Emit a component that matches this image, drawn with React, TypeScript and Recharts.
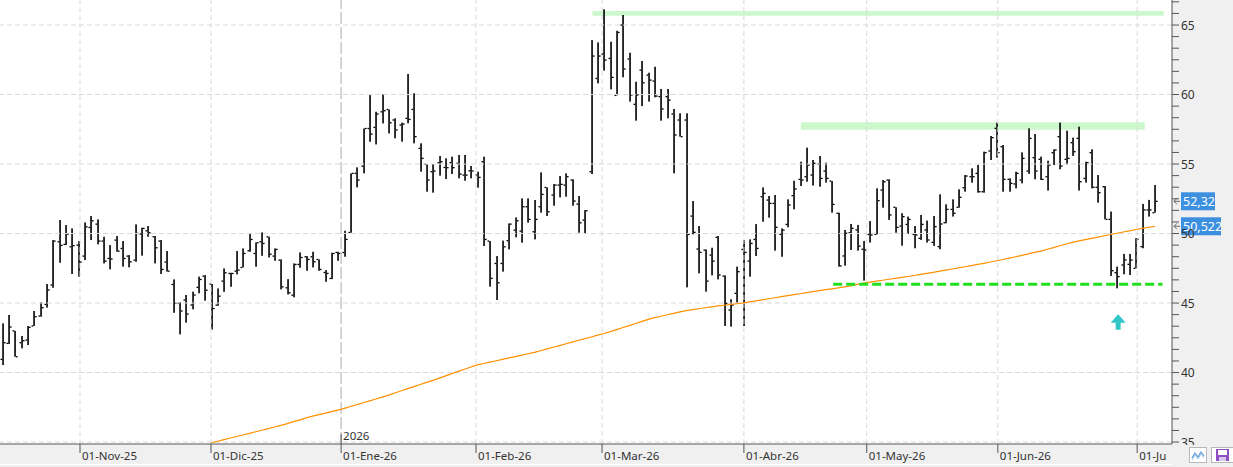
import React from "react";
import {
  ComposedChart,
  Bar,
  Line,
  XAxis,
  YAxis,
  ReferenceLine,
  ReferenceArea,
  ReferenceDot,
} from "recharts";

// daily OHLC, one entry per session (Oct-25 .. Jul-26)
const opens = [
  40.95, 42.1, 43.0, 42.15, 42.34, 43.35, 44.07, 44.9, 46.3, 49.41,
  49.22, 49.05, 49.17, 48.38, 50.44, 50.68, 49.46, 48.21, 49.53, 48.93,
  48.38, 48.09, 49.97, 50.2, 49.77, 49.46, 47.95, 46.34, 44.98, 45.22,
  44.86, 46.13, 46.94, 46.37, 44.85, 46.58, 47.13, 47.3, 47.56, 48.76,
  48.57, 49.41, 49.77, 48.38, 48.09, 46.1, 45.57, 47.78, 48.33, 48.33,
  48.14, 47.2, 46.77, 48.64, 48.64, 50.08, 54.33, 54.85, 57.56, 57.64,
  58.76, 58.93, 58.17, 57.81, 58.29, 58.93, 56.13, 54.98, 54.45, 55.1,
  54.76, 55.1, 55.05, 54.21, 54.52, 54.21, 55.17, 49.46, 47.85, 47.85,
  49.49, 50.25, 50.18, 51.93, 50.13, 51.93, 53.32, 52.77, 53.49, 53.49,
  53.85, 52.12, 50.97, 54.45, 61.16, 62.92, 62.6, 59.94, 65.0, 62.56,
  59.3, 61.76, 61.4, 60.97, 59.85, 59.85, 58.6, 58.17, 58.17, 51.26,
  48.89, 48.81, 48.45, 49.73, 46.94, 44.5, 45.7, 48.86, 48.02, 49.58,
  52.65, 52.41, 52.17, 49.94, 50.66, 52.73, 53.9, 54.09, 54.21, 55.0,
  54.5, 53.78, 51.46, 48.39, 50.06, 50.26, 48.87, 49.94, 49.94, 53.13,
  53.85, 51.89, 50.54, 50.66, 49.94, 49.66, 50.26, 49.37, 49.06, 50.78,
  51.74, 51.89, 53.3, 54.09, 54.33, 53.01, 55.94, 57.57, 56.25, 53.9,
  53.57, 53.85, 54.5, 55.46, 55.34, 54.09, 55.82, 56.97, 55.34, 56.54,
  56.85, 53.97, 55.82, 53.33, 53.37, 51.02, 47.19, 47.74, 47.79, 47.5,
  49.06, 51.7, 51.5,
];

const highs = [
  43.54, 44.14, 43.0, 42.63, 43.35, 44.43, 45.05, 46.37, 49.53, 50.97,
  50.61, 50.37, 49.46, 50.8, 51.26, 51.02, 49.77, 49.17, 49.82, 49.46,
  48.45, 50.66, 50.42, 50.54, 49.82, 49.53, 48.74, 46.7, 45.05, 45.58,
  45.82, 46.9, 47.01, 46.37, 46.05, 47.49, 47.18, 48.74, 48.93, 50.01,
  49.36, 50.08, 49.77, 48.93, 48.14, 46.72, 47.85, 48.64, 48.38, 48.69,
  48.14, 47.37, 48.62, 48.69, 50.2, 54.33, 54.76, 57.56, 59.96, 58.76,
  60.03, 58.93, 58.29, 57.98, 61.48, 60.09, 56.49, 54.98, 55.0, 55.58,
  55.41, 55.53, 55.65, 55.65, 54.86, 54.45, 55.53, 49.46, 48.38, 49.49,
  50.73, 51.16, 52.53, 52.53, 52.41, 54.4, 53.32, 53.56, 54.14, 54.33,
  53.9, 52.7, 51.69, 63.92, 63.75, 66.13, 63.8, 64.59, 65.72, 63.01,
  60.92, 62.41, 61.57, 62.0, 60.4, 60.4, 58.96, 58.65, 58.65, 52.34,
  50.54, 48.86, 48.98, 49.82, 46.99, 45.27, 47.62, 49.53, 49.58, 50.68,
  53.32, 52.7, 52.77, 50.37, 52.46, 53.8, 55.17, 56.18, 55.29, 55.58,
  55.1, 53.78, 51.5, 50.26, 50.69, 50.62, 49.47, 50.9, 53.25, 53.85,
  53.9, 51.89, 51.46, 51.22, 50.54, 51.34, 50.93, 51.26, 52.82, 52.1,
  52.46, 53.18, 54.21, 54.69, 54.93, 55.89, 57.02, 57.98, 56.37, 53.97,
  54.45, 55.84, 57.57, 57.16, 55.53, 55.24, 56.06, 57.98, 57.4, 56.9,
  57.69, 55.17, 56.06, 54.21, 53.42, 51.58, 47.62, 48.53, 48.53, 49.66,
  52.13, 52.42, 53.49,
];

const lows = [
  40.54, 42.05, 41.14, 41.74, 41.98, 43.35, 44.02, 44.67, 46.1, 47.9,
  49.17, 47.09, 46.9, 48.09, 49.53, 49.22, 47.85, 47.42, 48.69, 47.62,
  47.57, 47.97, 48.41, 49.77, 47.85, 47.09, 47.26, 44.3, 42.75, 43.59,
  44.55, 45.7, 45.17, 43.1, 44.81, 45.81, 46.17, 47.06, 47.56, 48.69,
  47.61, 48.4, 48.28, 48.04, 45.98, 45.62, 45.41, 47.54, 47.32, 47.56,
  47.32, 46.53, 46.72, 48.04, 48.33, 50.06, 53.32, 54.33, 56.6, 56.41,
  57.92, 57.2, 56.85, 56.61, 57.93, 56.49, 54.45, 53.01, 52.94, 54.16,
  53.92, 54.28, 53.97, 53.8, 53.97, 53.3, 49.1, 46.18, 45.22, 47.26,
  48.86, 49.73, 49.34, 50.78, 49.58, 51.5, 51.26, 52.0, 52.6, 52.65,
  52.0, 50.06, 49.97, 54.28, 60.8, 61.72, 60.37, 59.94, 61.24, 59.49,
  58.12, 59.17, 59.49, 59.8, 58.12, 58.29, 54.33, 56.97, 46.13, 49.94,
  47.14, 45.82, 46.99, 46.7, 43.35, 43.3, 45.03, 43.35, 46.9, 48.38,
  50.85, 51.14, 48.77, 48.33, 50.45, 51.74, 53.42, 53.73, 53.45, 53.37,
  53.66, 51.5, 47.62, 47.69, 48.82, 48.77, 46.61, 49.35, 49.94, 51.86,
  50.98, 50.06, 49.13, 49.97, 48.94, 49.54, 49.35, 49.11, 48.87, 50.74,
  51.22, 51.86, 53.01, 53.66, 52.94, 52.94, 55.29, 55.46, 53.01, 53.01,
  53.25, 53.61, 54.29, 53.9, 53.85, 53.09, 54.93, 54.62, 54.98, 55.58,
  53.09, 53.66, 53.25, 52.22, 51.02, 46.95, 46.06, 47.07, 47.02, 47.5,
  48.94, 51.22, 51.5,
];

const closes = [
  42.15, 43.28, 41.14, 42.29, 43.25, 44.02, 44.67, 45.94, 49.46, 49.15,
  49.96, 49.13, 47.95, 50.49, 50.92, 49.46, 48.02, 48.17, 48.74, 48.21,
  47.97, 50.01, 50.37, 50.06, 48.98, 47.42, 47.3, 44.98, 44.43, 44.21,
  45.58, 46.7, 45.93, 44.61, 45.5, 47.18, 47.13, 47.37, 48.57, 49.58,
  49.34, 49.29, 48.52, 48.86, 46.17, 45.74, 47.78, 48.28, 48.14, 47.97,
  47.42, 47.13, 48.57, 48.57, 49.58, 54.33, 53.85, 57.56, 57.16, 58.6,
  58.84, 57.97, 57.45, 57.88, 58.21, 56.97, 55.41, 53.85, 54.5, 55.17,
  54.74, 54.74, 54.28, 54.21, 54.5, 54.04, 49.58, 46.78, 46.46, 49.05,
  50.68, 50.92, 51.93, 51.02, 51.02, 52.82, 51.57, 53.49, 53.54, 54.09,
  52.34, 50.78, 51.64, 62.77, 62.77, 62.48, 61.24, 64.47, 61.84, 59.97,
  59.97, 60.85, 61.04, 59.89, 58.96, 59.6, 57.09, 56.97, 49.94, 50.09,
  48.65, 46.58, 48.02, 47.02, 44.98, 44.86, 47.26, 48.65, 49.29, 48.93,
  52.89, 52.17, 50.45, 50.25, 52.06, 53.21, 53.85, 54.93, 55.05, 53.97,
  53.97, 52.1, 47.67, 50.02, 50.38, 49.1, 48.82, 49.9, 52.37, 53.73,
  51.34, 50.45, 51.22, 51.02, 49.9, 50.66, 49.54, 50.5, 50.69, 51.74,
  51.46, 52.61, 54.14, 54.09, 53.01, 55.82, 56.9, 55.82, 53.9, 53.61,
  54.33, 55.41, 56.85, 54.5, 53.9, 54.93, 56.01, 54.86, 55.41, 55.89,
  53.73, 55.1, 53.33, 52.94, 51.02, 47.33, 46.9, 48.1, 48.1, 49.59,
  51.7, 51.7, 52.32,
];

// moving average, first visible point on session 33 (01-Dic)
const maStart = 33;
const maValues = [
  34.95, 35.06, 35.17, 35.29, 35.4, 35.51, 35.62, 35.74, 35.85, 35.97,
  36.08, 36.2, 36.33, 36.47, 36.6, 36.74, 36.86, 36.97, 37.08, 37.19,
  37.3, 37.42, 37.56, 37.69, 37.83, 37.96, 38.1, 38.23, 38.38, 38.53,
  38.69, 38.84, 38.99, 39.14, 39.29, 39.44, 39.6, 39.76, 39.92, 40.08,
  40.24, 40.4, 40.55, 40.65, 40.75, 40.85, 40.95, 41.05, 41.15, 41.25,
  41.35, 41.45, 41.57, 41.7, 41.82, 41.94, 42.07, 42.19, 42.32, 42.44,
  42.56, 42.69, 42.81, 42.94, 43.09, 43.24, 43.38, 43.53, 43.68, 43.83,
  43.95, 44.05, 44.16, 44.26, 44.37, 44.46, 44.53, 44.59, 44.66, 44.72,
  44.79, 44.84, 44.9, 44.95, 45.01, 45.08, 45.16, 45.23, 45.31, 45.38,
  45.46, 45.53, 45.6, 45.67, 45.75, 45.82, 45.89, 45.96, 46.02, 46.09,
  46.16, 46.24, 46.34, 46.43, 46.51, 46.58, 46.64, 46.71, 46.78, 46.85,
  46.91, 46.98, 47.06, 47.14, 47.21, 47.29, 47.37, 47.45, 47.53, 47.61,
  47.69, 47.78, 47.86, 47.95, 48.04, 48.13, 48.23, 48.33, 48.43, 48.54,
  48.64, 48.74, 48.87, 48.99, 49.12, 49.25, 49.37, 49.47, 49.56, 49.65,
  49.74, 49.84, 49.93, 50.02, 50.11, 50.19, 50.29, 50.37, 50.45, 50.52,
];

// month starts, in session units
const monthPos = [12.27, 32.95, 53.5, 74.8, 94.7, 117.1, 136.5, 157.2, 179.2];
const monthLabels = [
  "01-Nov-25", "01-Dic-25", "01-Ene-26", "01-Feb-26", "01-Mar-26",
  "01-Abr-26", "01-May-26", "01-Jun-26", "01-Ju",
];
const yearMark = 2; // index in monthPos
const yearLabel = "2026";

const yGrid = [35, 40, 45, 50, 55, 60, 65];

const lastClose = 52.32;
const lastMa = 50.522;

// drawn levels
const topBand = { x1: 93.2, x2: 183.4, y1: 65.67, y2: 66.01 };
const midBand = { x1: 126.1, x2: 180.4, y1: 57.47, y2: 58.0 };
const support = { x1: 131.2, x2: 183.2, y: 46.35 };
const arrowAt = { x: 176.2, y: 43.61 };

const rows = opens.map((o, i) => ({
  i,
  open: o,
  high: highs[i],
  low: lows[i],
  close: closes[i],
  range: [lows[i], highs[i]],
  ma: i >= maStart ? maValues[i - maStart] : null,
}));

const yTicks = Array.from({ length: 39 }, (_, k) => 35 + (k * 5) / 6);

const FONT = "'Noto Sans', sans-serif";

const renderOhlc = (props: any) => {
  const { x, y, width, height, payload } = props;
  if (x == null || y == null) return <g />;
  const top = Math.min(y, y + height);
  const bot = Math.max(y, y + height);
  const span = payload.high - payload.low || 1;
  const cx = Math.round(x + width / 2);
  const py = (v: number) => top + ((payload.high - v) / span) * (bot - top);
  return (
    <g>
      <rect x={cx - 0.75} y={top} width={1.6} height={Math.max(bot - top, 1)} fill="#000" />
      <rect x={cx - 2.5} y={py(payload.open) - 0.6} width={1.75} height={1.3} fill="#000" />
      <rect x={cx + 0.85} y={py(payload.close) - 0.6} width={1.75} height={1.3} fill="#000" />
    </g>
  );
};

const XTick = (props: any) => {
  const { x, y, payload } = props;
  const k = monthPos.indexOf(payload.value);
  const isYear = k === yearMark;
  return (
    <g>
      <line x1={x} x2={x} y1={isYear ? y - 10 : y} y2={y + 9} stroke="#555" />
      {isYear && (
        <text x={x + 2} y={y - 4} fontSize={11.5} fontFamily={FONT} fill="#333">
          {yearLabel}
        </text>
      )}
      <text x={x + 2} y={y + 16} fontSize={11.5} fontFamily={FONT} fill="#333">
        {monthLabels[k] ?? ""}
      </text>
    </g>
  );
};

const YTick = (props: any) => {
  const { x, y, payload } = props;
  const v = payload.value;
  const r = Math.round(v);
  if (Math.abs(v - r) > 0.01 || r % 5 !== 0) return <g />;
  return (
    <text x={x} y={y + 4.5} fontSize={12} fontFamily={FONT} fill="#333">
      {r}
    </text>
  );
};

const PriceTag = (props: any) => {
  const { viewBox, text } = props;
  if (!viewBox) return null;
  const right = Math.max(viewBox.x, viewBox.x + viewBox.width);
  const y = viewBox.y;
  const w = text.length * 6 + 4;
  return (
    <g>
      <path
        d={`M${right + 2} ${y}h6 M${right + 2} ${y}l3 -3 M${right + 2} ${y}l3 3`}
        stroke="#666"
        fill="none"
      />
      <rect x={right + 9} y={y - 9} width={w} height={18} fill="#3d8fe0" />
      <text x={right + 11} y={y + 4.5} fontSize={12.5} fontFamily={FONT} fill="#fff">
        {text}
      </text>
    </g>
  );
};

const ArrowUp = (props: any) => {
  const { cx, cy } = props;
  const pts = [
    [cx, cy - 8],
    [cx + 7.5, cy + 0.5],
    [cx + 2.5, cy + 0.5],
    [cx + 2.5, cy + 7.5],
    [cx - 2.5, cy + 7.5],
    [cx - 2.5, cy + 0.5],
    [cx - 7.5, cy + 0.5],
  ]
    .map((p) => p.join(","))
    .join(" ");
  return <polygon points={pts} fill="#33c6c9" />;
};

export default function App() {
  return (
    <div
      style={{
        position: "absolute",
        left: 0,
        top: 0,
        width: 1233,
        height: 467,
        background: "#ffffff",
        overflow: "hidden",
      }}
    >
      <div style={{ position: "absolute", left: 1172, top: 0, width: 61, height: 467, background: "#f0f0f0" }} />
      <div style={{ position: "absolute", left: 0, top: 444, width: 1233, height: 23, background: "#f0f0f0" }} />
      <div style={{ position: "absolute", left: 0, top: 464, width: 1233, height: 1, background: "#fff" }} />
      <div style={{ position: "absolute", left: 0, top: 0 }}>
        <ComposedChart
          width={1233}
          height={467}
          data={rows}
          margin={{ top: 0, right: 0, bottom: 0, left: 0 }}
        >
          <XAxis
            type="number"
            dataKey="i"
            domain={[-0.363, 184.7]}
            ticks={monthPos}
            interval={0}
            allowDataOverflow
            height={23}
            tickSize={0}
            tickMargin={0}
            tickLine={false}
            axisLine={{ stroke: "#555" }}
            tick={<XTick />}
          />
          <YAxis
            orientation="right"
            type="number"
            domain={[34.86, 66.8]}
            ticks={yTicks}
            interval={0}
            allowDataOverflow
            width={61}
            tickSize={7}
            tickMargin={2}
            tickLine={{ stroke: "#555" }}
            axisLine={{ stroke: "#555" }}
            tick={<YTick />}
          />
          {yGrid.map((v) => (
            <ReferenceLine key={"h" + v} y={v} stroke="#d9d9d9" strokeDasharray="5 3" />
          ))}
          {monthPos.map((p, k) => (
            <ReferenceLine
              key={"v" + k}
              x={p}
              stroke={k === yearMark ? "#c8c8c8" : "#d9d9d9"}
              strokeWidth={k === yearMark ? 1.5 : 1}
              strokeDasharray={k === yearMark ? "12 3" : "5 3"}
            />
          ))}
          <ReferenceArea {...topBand} fill="#ccf8cc" fillOpacity={1} stroke="none" />
          <ReferenceArea {...midBand} fill="#ccf8cc" fillOpacity={1} stroke="none" />
          <Bar dataKey="range" barSize={5} shape={renderOhlc} isAnimationActive={false} />
          <Line
            dataKey="ma"
            type="linear"
            stroke="#ff9000"
            strokeWidth={1.2}
            dot={false}
            activeDot={false}
            connectNulls={false}
            isAnimationActive={false}
          />
          <ReferenceLine
            segment={[
              { x: support.x1, y: support.y },
              { x: support.x2, y: support.y },
            ]}
            stroke="#1fe01f"
            strokeWidth={3}
            strokeDasharray="9 4"
          />
          <ReferenceDot x={arrowAt.x} y={arrowAt.y} r={0} shape={(p: any) => <ArrowUp {...p} />} />
          <ReferenceLine
            y={lastClose}
            stroke="none"
            strokeWidth={0}
            label={<PriceTag text={lastClose.toFixed(2).replace(".", ",")} />}
          />
          <ReferenceLine
            y={lastMa}
            stroke="none"
            strokeWidth={0}
            label={<PriceTag text={lastMa.toFixed(3).replace(".", ",")} />}
          />
        </ComposedChart>
      </div>
      <div
        style={{
          position: "absolute",
          left: 1173,
          top: 445,
          width: 60,
          height: 22,
          background: "#f0f0f0",
        }}
      >
        <div
          style={{
            position: "absolute",
            left: 16,
            top: 2,
            width: 16,
            height: 14,
            background: "#fff",
            border: "1px solid #b8b8b8",
          }}
        >
          <svg width={16} height={14}>
            <polyline points="2,10 5,5 8,9 11,4 14,8" fill="none" stroke="#5b9bd5" strokeWidth={1.2} />
            <polyline points="2,12 5,7 8,11 11,6 14,10" fill="none" stroke="#9cc3e8" strokeWidth={1} />
          </svg>
        </div>
        <div
          style={{
            position: "absolute",
            left: 38,
            top: 2,
            width: 21,
            height: 14,
            background: "#fff",
            border: "1px solid #b8b8b8",
          }}
        >
          <svg width={21} height={14}>
            <rect x={4} y={1} width={13} height={12} fill="#8e4fc4" />
            <rect x={6} y={2} width={9} height={5} fill="#fff" />
            <rect x={7} y={9} width={7} height={4} fill="#d9c6ef" />
          </svg>
        </div>
      </div>
    </div>
  );
}
